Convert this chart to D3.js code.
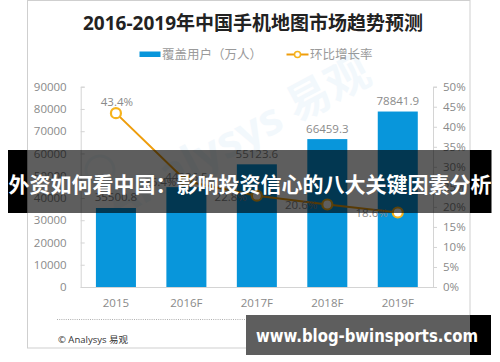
<!DOCTYPE html>
<html><head><meta charset="utf-8">
<script src="https://cdn.jsdelivr.net/npm/d3@7"></script>
<style>
html,body{margin:0;padding:0;background:#fff;}
svg{display:block;font-family:"Open Sans","Noto Sans CJK SC",sans-serif;}
</style></head>
<body>
<svg id="c" width="500" height="362"></svg>
<script>
const categories = ["2015","2016F","2017F","2018F","2019F"];
const users = [35500.8, 44886.5, 55123.6, 66459.3, 78841.9];
const growth = [43.4, 26.4, 22.8, 20.6, 18.6];
const leftTicks = [0,10000,20000,30000,40000,50000,60000,70000,80000,90000];
const rightTicks = [0,5,10,15,20,25,30,35,40,45,50];
const title = "2016-2019年中国手机地图市场趋势预测";
const legendBar = "覆盖用户（万人）";
const legendLine = "环比增长率";
const source = "© Analysys 易观";
const bannerText = "外资如何看中国：影响投资信心的八大关键因素分析";
const urlText = "www.blog-bwinsports.com";

const svg = d3.select("#c");
const BLUE = "#0896DB", ORANGE = "#EE9D0C", GOLD = "#F6B31C", AX = "#d4d4d4", TXT = "#8a8a8a";

// card
svg.append("rect").attr("x",27.5).attr("y",0.5).attr("width",442.5).attr("height",347.5)
  .attr("fill","#fff").attr("stroke","#cfcfcf");

// title
svg.append("text").attr("x",253).attr("y",23).attr("text-anchor","middle").attr("dominant-baseline","central")
  .attr("font-size",19).attr("font-weight","bold").attr("fill","#222").text(title);

// legend
svg.append("rect").attr("x",139.5).attr("y",51.5).attr("width",21).attr("height",5.5).attr("fill",BLUE);
svg.append("text").attr("x",162).attr("y",54.5).attr("dominant-baseline","central")
  .attr("font-size",12.5).attr("fill","#9a9a9a").text(legendBar);
svg.append("line").attr("x1",286.5).attr("x2",308.5).attr("y1",54.5).attr("y2",54.5).attr("stroke",ORANGE).attr("stroke-width",2);
svg.append("circle").attr("cx",297.5).attr("cy",54.5).attr("r",3).attr("fill","#fff").attr("stroke",GOLD).attr("stroke-width",1.5);
svg.append("text").attr("x",310).attr("y",54.5).attr("dominant-baseline","central")
  .attr("font-size",12.5).attr("fill","#9a9a9a").text(legendLine);

// watermark
const wm = svg.append("g").attr("opacity",0.06).attr("fill","#3d8fd0");
wm.append("text").attr("transform","translate(245,150) rotate(-28)").attr("text-anchor","middle")
  .attr("font-size",44).attr("font-weight","bold").text("Analysys 易观");
wm.append("circle").attr("cx",100).attr("cy",170).attr("r",14).attr("fill","none").attr("stroke","#3d8fd0").attr("stroke-width",3);

// scales
const x = d3.scaleBand().domain(categories).range([80.7,433]).paddingInner(0.432).paddingOuter(0.216);
const yL = d3.scaleLinear().domain([0,90000]).range([287,86.7]);
const yR = d3.scaleLinear().domain([0,50]).range([287,86.7]);

// axes
const gL = svg.append("g").attr("transform","translate(80.7,0)")
  .call(d3.axisLeft(yL).tickValues(leftTicks).tickSize(-4).tickPadding(14).tickFormat(d3.format("d")));
const gR = svg.append("g").attr("transform","translate(433,0)")
  .call(d3.axisRight(yR).tickValues(rightTicks).tickSize(4).tickPadding(6).tickFormat(d=>d+"%"));
const gX = svg.append("g").attr("transform","translate(0,287)")
  .call(d3.axisBottom(x).tickSize(0).tickPadding(12));
[gL,gR,gX].forEach(g=>{
  g.selectAll("path").attr("stroke",AX);
  g.selectAll("line").attr("stroke",AX);
  g.selectAll("text").attr("fill",TXT).attr("font-size",11.5).attr("font-family","'Open Sans','Noto Sans CJK SC',sans-serif");
});
gX.select(".domain").attr("d","M80.7,0.5H433");

// bars
svg.append("g").selectAll("rect").data(users).join("rect")
  .attr("x",(d,i)=>x(categories[i])).attr("width",x.bandwidth())
  .attr("y",d=>yL(d)).attr("height",d=>yL(0)-yL(d)).attr("fill",BLUE);
svg.append("g").selectAll("text").data(users).join("text")
  .attr("x",(d,i)=>x(categories[i])+x.bandwidth()/2).attr("y",d=>yL(d)-11)
  .attr("text-anchor","middle").attr("dominant-baseline","central")
  .attr("font-size",11.5).attr("fill",TXT).text(d=>d3.format(".1f")(d));

// line
const cx = (i)=>x(categories[i])+x.bandwidth()/2;
svg.append("path").datum(growth)
  .attr("d",d3.line().x((d,i)=>cx(i)).y(d=>yR(d)))
  .attr("fill","none").attr("stroke",ORANGE).attr("stroke-width",2);
svg.append("g").selectAll("circle").data(growth).join("circle")
  .attr("cx",(d,i)=>cx(i)).attr("cy",d=>yR(d)).attr("r",5)
  .attr("fill","#fff").attr("stroke",GOLD).attr("stroke-width",2.2);
svg.append("g").selectAll("text").data(growth).join("text")
  .attr("x",(d,i)=> i===0 ? cx(i)+1 : cx(i)-10)
  .attr("y",(d,i)=> i===0 ? yR(d)-12 : yR(d)+0.5)
  .attr("text-anchor",(d,i)=> i===0 ? "middle" : "end")
  .attr("dominant-baseline","central")
  .attr("font-size",11.5).attr("fill",TXT).text(d=>d.toFixed(1)+"%");

// footer
svg.append("line").attr("x1",57).attr("x2",437).attr("y1",319.5).attr("y2",319.5)
  .attr("stroke","#9a9a9a").attr("stroke-width",0.8).attr("stroke-dasharray","1,1.2");
svg.append("text").attr("x",58).attr("y",339).attr("dominant-baseline","central")
  .attr("font-size",9.5).attr("fill","#333").text(source);

// overlay banner (semi-transparent over the card, solid black outside)
svg.append("rect").attr("x",8).attr("y",150).attr("width",19.5).attr("height",63).attr("fill","#000");
svg.append("rect").attr("x",470).attr("y",150).attr("width",21.5).attr("height",63).attr("fill","#000");
svg.append("rect").attr("x",27.5).attr("y",150).attr("width",442.5).attr("height",63).attr("fill","rgba(0,0,0,0.63)");
svg.append("text").attr("x",250).attr("y",183).attr("text-anchor","middle").attr("dominant-baseline","central")
  .attr("font-family","'Noto Sans CJK SC',sans-serif").attr("font-weight","bold")
  .attr("font-size",21).attr("fill","#fff").text(bannerText);

// url banner
svg.append("rect").attr("x",246).attr("y",315).attr("width",245).attr("height",40).attr("fill","#000");
svg.append("rect").attr("x",246).attr("y",315).attr("width",224).attr("height",40).attr("fill","#5e5e5e");
svg.append("text").attr("x",256).attr("y",336).attr("dominant-baseline","central")
  .attr("font-family","'DejaVu Sans',sans-serif").attr("font-weight","bold")
  .attr("font-size",17).attr("fill","#fff").attr("textLength",222).attr("lengthAdjust","spacingAndGlyphs").text(urlText);
</script>
</body></html>
